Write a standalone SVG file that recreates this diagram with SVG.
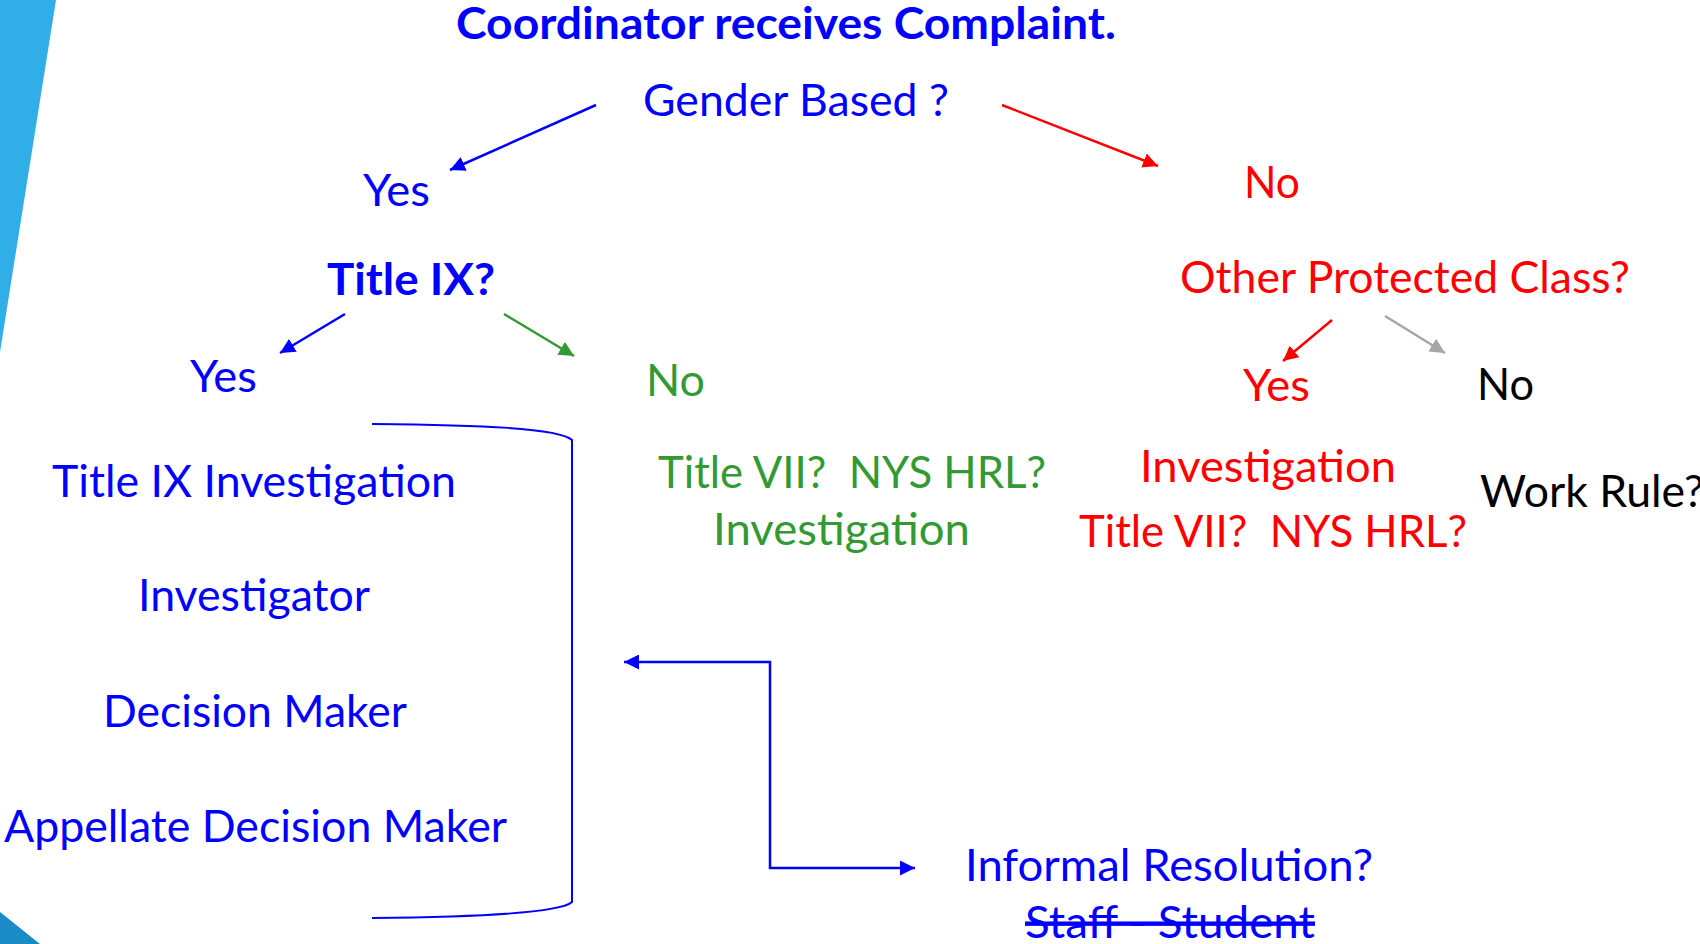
<svg xmlns="http://www.w3.org/2000/svg" width="1700" height="944" viewBox="0 0 1700 944">
<defs>
<style>
text{font-family:Lato,"Open Sans","Liberation Sans",sans-serif;font-size:44px;white-space:pre}
.b{fill:#0000FF}.r{fill:#FF0000}.g{fill:#339933}.k{fill:#000000}
.bold{font-weight:bold}
.ln{fill:none;stroke-width:2.5}
</style>
<marker id="ab" viewBox="0 0 10 10" refX="10" refY="5" markerWidth="6" markerHeight="6" orient="auto-start-reverse"><path d="M0,0L10,5L0,10z" fill="#0000FF"/></marker>
<marker id="ar" viewBox="0 0 10 10" refX="10" refY="5" markerWidth="6" markerHeight="6" orient="auto"><path d="M0,0L10,5L0,10z" fill="#FF0000"/></marker>
<marker id="ag" viewBox="0 0 10 10" refX="10" refY="5" markerWidth="6" markerHeight="6" orient="auto"><path d="M0,0L10,5L0,10z" fill="#339933"/></marker>
<marker id="ay" viewBox="0 0 10 10" refX="10" refY="5" markerWidth="6" markerHeight="6" orient="auto"><path d="M0,0L10,5L0,10z" fill="#A6A6A6"/></marker>
</defs>
<rect width="1700" height="944" fill="#FFFFFF"/>
<g id="decor">
<polygon points="0,0 56,0 0,352" fill="#2FAEE8"/>
<polygon points="0,912 40,944 0,944" fill="#1A8BC5"/>
</g>
<g id="connectors">
<line class="ln" x1="596" y1="105" x2="450" y2="170" stroke="#0000FF" marker-end="url(#ab)"/>
<line class="ln" x1="1002" y1="105" x2="1158" y2="166" stroke="#FF0000" marker-end="url(#ar)"/>
<line class="ln" x1="345" y1="314" x2="280" y2="353" stroke="#0000FF" marker-end="url(#ab)"/>
<line class="ln" x1="504" y1="314" x2="574" y2="356" stroke="#339933" marker-end="url(#ag)"/>
<line class="ln" x1="1332" y1="320" x2="1283" y2="361" stroke="#FF0000" marker-end="url(#ar)"/>
<line class="ln" x1="1385" y1="316" x2="1445" y2="353" stroke="#A6A6A6" marker-end="url(#ay)"/>
<path d="M372,424 C480,425 560,428 572,440 L572,902 C560,913 480,917 372,918" fill="none" stroke="#0000FF" stroke-width="2"/>
<path class="ln" d="M624,662 H770 V868 H915" stroke="#0000FF" marker-start="url(#ab)" marker-end="url(#ab)"/>
</g>
<g id="n-title"><text class="b bold" x="456" y="39" style="font-size:43px" textLength="660" lengthAdjust="spacingAndGlyphs">Coordinator receives Complaint.</text></g>
<g id="n-gender"><text class="b" x="643" y="116" textLength="306" lengthAdjust="spacingAndGlyphs">Gender Based ?</text></g>
<g id="n-yes1"><text class="b" x="363" y="206" textLength="67" lengthAdjust="spacingAndGlyphs">Yes</text></g>
<g id="n-no1"><text class="r" x="1244" y="198" textLength="56" lengthAdjust="spacingAndGlyphs">No</text></g>
<g id="n-title9"><text class="b bold" x="327" y="295" textLength="168" lengthAdjust="spacingAndGlyphs">Title IX?</text></g>
<g id="n-other"><text class="r" x="1180" y="293" textLength="450" lengthAdjust="spacingAndGlyphs">Other Protected Class?</text></g>
<g id="n-yes2"><text class="b" x="190" y="392" textLength="67" lengthAdjust="spacingAndGlyphs">Yes</text></g>
<g id="n-no2"><text class="g" x="646" y="396" textLength="59" lengthAdjust="spacingAndGlyphs">No</text></g>
<g id="n-yes3"><text class="r" x="1243" y="401" textLength="67" lengthAdjust="spacingAndGlyphs">Yes</text></g>
<g id="n-no3"><text class="k" x="1477" y="400" textLength="57" lengthAdjust="spacingAndGlyphs">No</text></g>
<g id="n-t9list">
<text class="b" x="52" y="497" textLength="404" lengthAdjust="spacingAndGlyphs">Title IX Investigation</text>
<text class="b" x="138" y="611" textLength="232" lengthAdjust="spacingAndGlyphs">Investigator</text>
<text class="b" x="103" y="727" textLength="304" lengthAdjust="spacingAndGlyphs">Decision Maker</text>
<text class="b" x="4" y="842" textLength="503" lengthAdjust="spacingAndGlyphs">Appellate Decision Maker</text>
</g>
<g id="n-green">
<text class="g" x="658" y="488" textLength="388" lengthAdjust="spacingAndGlyphs">Title VII?  NYS HRL?</text>
<text class="g" x="713" y="545" textLength="257" lengthAdjust="spacingAndGlyphs">Investigation</text>
</g>
<g id="n-red">
<text class="r" x="1140" y="482" textLength="256" lengthAdjust="spacingAndGlyphs">Investigation</text>
<text class="r" x="1079" y="547" textLength="388" lengthAdjust="spacingAndGlyphs">Title VII?  NYS HRL?</text>
</g>
<g id="n-work"><text class="k" x="1480" y="507" textLength="224" lengthAdjust="spacingAndGlyphs">Work Rule?</text></g>
<g id="n-informal">
<text class="b" x="965" y="881" textLength="408" lengthAdjust="spacingAndGlyphs">Informal Resolution?</text>
<text class="b" x="1025" y="938" textLength="290" lengthAdjust="spacingAndGlyphs" text-decoration="line-through">Staff - Student</text>
</g>
</svg>
